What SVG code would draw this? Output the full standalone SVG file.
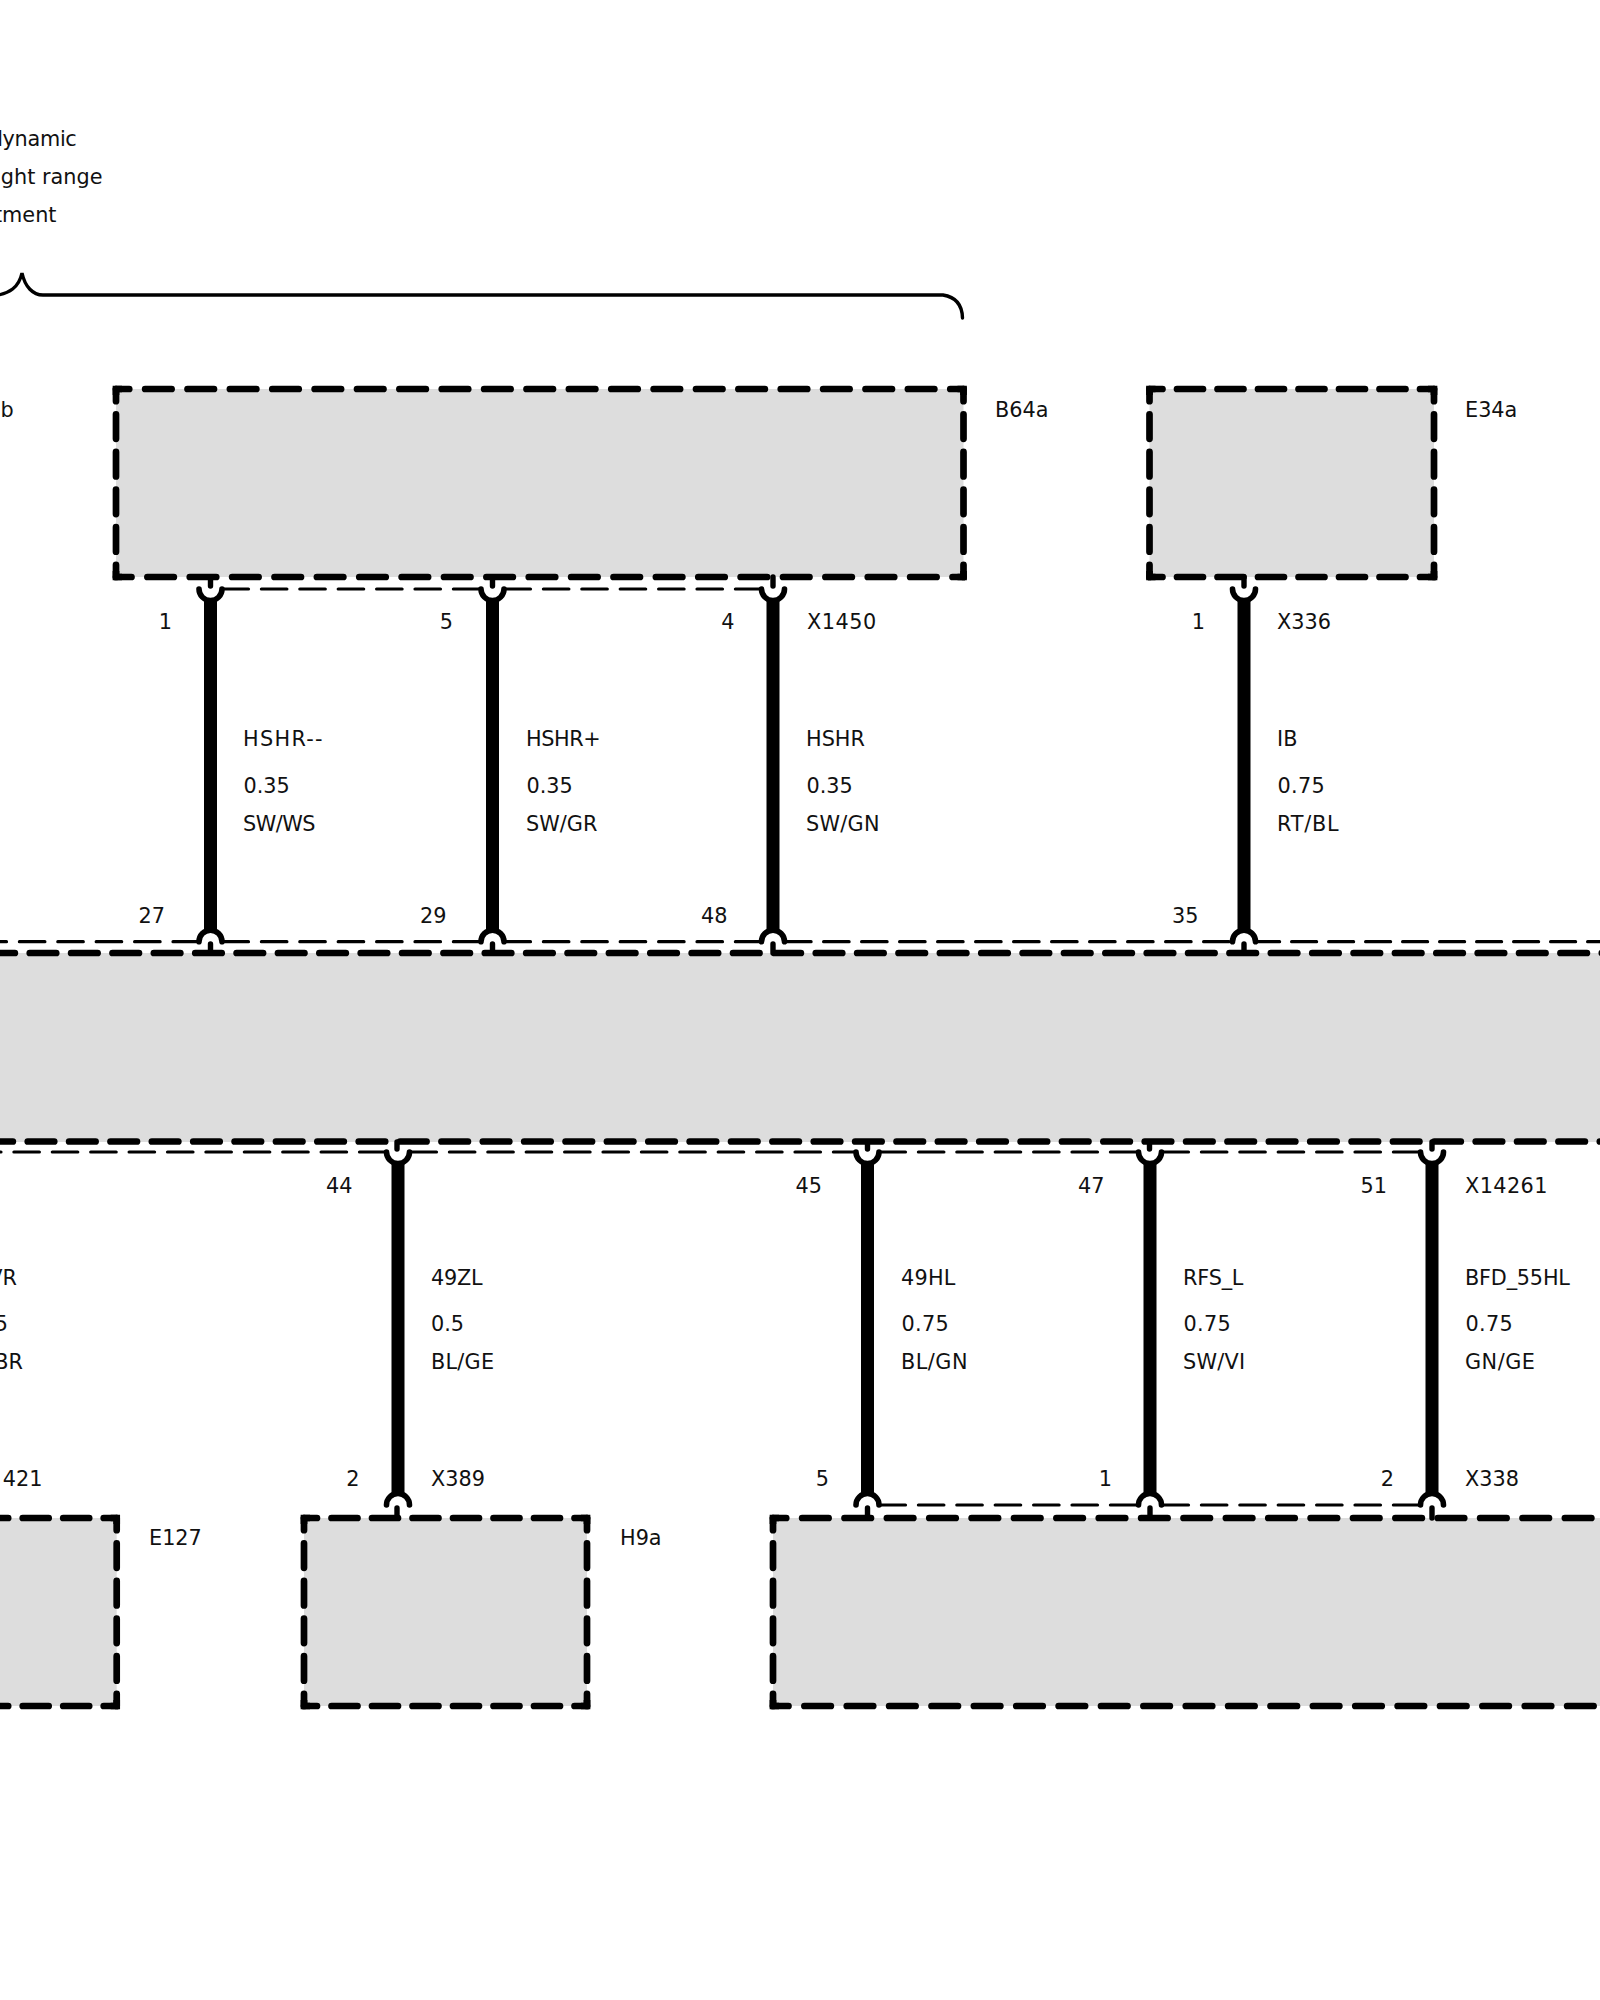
<svg xmlns="http://www.w3.org/2000/svg" width="1600" height="2000" viewBox="0 0 1600 2000">
<style>
text{font-family:"DejaVu Sans","Liberation Sans",sans-serif;font-size:20.8px;fill:#111}
.e{text-anchor:end}
.fill{fill:#dddddd;stroke:none}
.d{fill:none;stroke:#000;stroke-width:6.7;stroke-linecap:round}
.v{stroke-dasharray:24.5 13.1;stroke-dashoffset:12.25}
.h20{stroke-dasharray:26.5 15.875;stroke-dashoffset:13.25}
.h20b{stroke-dasharray:26.5 15.875;stroke-dashoffset:11}
.h7{stroke-dasharray:26 14.5;stroke-dashoffset:13}
.hm{stroke-dasharray:26.5 14.87}
.c{fill:none;stroke:#000;stroke-width:6.7;stroke-linejoin:miter}
.thin{fill:none;stroke:#000;stroke-width:3.2;stroke-linecap:round;stroke-dasharray:25.5 12.9}
.thin2{stroke-dasharray:25.5 12.5}
.thin3{stroke-dasharray:25 12}
.wire{fill:none;stroke:#000;stroke-width:13}
.fork{fill:#fff;stroke:#000;stroke-width:5.6;stroke-linecap:round}
.stub{fill:none;stroke:#000;stroke-width:5.4;stroke-linecap:round}
.brace{fill:none;stroke:#000;stroke-width:3.4;stroke-linecap:round}
</style>

<g id="brace"><path class="brace" d="M962.5 318Q962 298 943 295H43C33 295 25 287 22 273C19 287 10 294 -8 296"/>
<text class="e" x="76.5" y="145.5" letter-spacing="-0.3">dynamic</text>
<text class="e" x="102.5" y="183.5">light range</text>
<text class="e" x="56.5" y="221.5">adjustment</text>
<text x="0.5" y="417">b</text></g>

<g id="B64a">
<rect class="fill" x="116" y="389" width="847.5" height="188"/>
<path class="d h20" d="M116 389H963.5"/><path class="d h20b" d="M116 577H963.5"/>
<path class="d v" d="M116 389V577"/><path class="d v" d="M963.5 389V577"/>
<path class="c" d="M122 389H116V395M957.5 389H963.5V395M122 577H116V571M957.5 577H963.5V571"/>
<text x="995" y="417">B64a</text></g>

<g id="E34a">
<rect class="fill" x="1149.5" y="389" width="284.5" height="188"/>
<path class="d h7" d="M1149.5 389H1434"/><path class="d h7" d="M1149.5 577H1434"/>
<path class="d v" d="M1149.5 389V577"/><path class="d v" d="M1434 389V577"/>
<path class="c" d="M1155.5 389H1149.5V395M1428 389H1434V395M1155.5 577H1149.5V571M1428 577H1434V571"/>
<text x="1465" y="417">E34a</text></g>

<g id="main">
<rect class="fill" x="-10" y="953" width="1620" height="189"/>
<path class="d hm" d="M-53 953H1620"/><path class="d hm" d="M-55 1141.5H1620"/></g>

<g id="E127">
<rect class="fill" x="-10" y="1518" width="126.7" height="188"/>
<path class="d h7" d="M116.7 1518H-10"/><path class="d h7" d="M116.7 1706H-10"/>
<path class="d v" d="M116.7 1518V1706"/>
<path class="c" d="M110.7 1518H116.7V1524M110.7 1706H116.7V1700"/>
<text x="149" y="1544.5">E127</text>
<text class="e" x="42.5" y="1486">421</text></g>

<g id="H9a">
<rect class="fill" x="304" y="1518" width="283" height="188"/>
<path class="d h7" d="M304 1518H587"/><path class="d h7" d="M304 1706H587"/>
<path class="d v" d="M304 1518V1706"/><path class="d v" d="M587 1518V1706"/>
<path class="c" d="M310 1518H304V1524M581 1518H587V1524M310 1706H304V1700M581 1706H587V1700"/>
<text x="620" y="1544.5">H9a</text></g>

<g id="load">
<rect class="fill" x="773" y="1518" width="840" height="188"/>
<path class="d h20" d="M773 1518H1620"/><path class="d h20b" d="M773 1706H1620"/>
<path class="d v" d="M773 1518V1706"/>
<path class="c" d="M779 1518H773V1524M779 1706H773V1700"/></g>

<g id="connectors">
<path class="thin" d="M223 589H480M505 589H761"/>
<path class="thin" d="M198.5 941.7H-10M223 941.7H480M505 941.7H761"/>
<path class="thin thin2" d="M785.6 941.7H1231.5"/>
<path class="thin thin3" d="M1254.6 941.7H1620"/>
<path class="thin" d="M385 1152H-10M411 1152H855M880 1152H1137.5"/>
<path class="thin" d="M1163 1152H1419.5"/>
<path class="thin" d="M880 1505H1137.5M1163 1505H1419.5"/>

<path class="wire" d="M210.5 597V932M492.5 597V932M773 597V932M1244 597V932"/>
<path class="wire" d="M398 1162V1494M867.5 1162V1494M1150 1162V1494M1432 1162V1494"/>

<g id="p-top">
<path class="fork" d="M199 589A11.5 11.5 0 0 0 222 589M481 589A11.5 11.5 0 0 0 504 589M761.5 589A11.5 11.5 0 0 0 784.5 589M1232.5 589A11.5 11.5 0 0 0 1255.5 589"/>
<path class="stub" d="M210.5 577V586M492.5 577V586M773 577V586M1244 577V586"/>
</g>
<g id="p-main-top">
<path class="fork" d="M199 941.7A11.5 11.5 0 0 1 222 941.7M481 941.7A11.5 11.5 0 0 1 504 941.7M761.5 941.7A11.5 11.5 0 0 1 784.5 941.7M1232.5 941.7A11.5 11.5 0 0 1 1255.5 941.7"/>
<path class="stub" d="M210.5 953V944M492.5 953V944M773 953V944M1244 953V944"/>
</g>
<g id="p-main-bottom">
<path class="fork" d="M386.5 1152A11.5 11.5 0 0 0 409.5 1152M856 1152A11.5 11.5 0 0 0 879 1152M1138.5 1152A11.5 11.5 0 0 0 1161.5 1152M1420.5 1152A11.5 11.5 0 0 0 1443.5 1152"/>
<path class="stub" d="M397 1142V1149M867.5 1142V1149M1149.5 1142V1149M1432 1142V1149"/>
</g>
<g id="p-lower">
<path class="fork" d="M386.5 1505A11.5 11.5 0 0 1 409.5 1505M856 1505A11.5 11.5 0 0 1 879 1505M1138.5 1505A11.5 11.5 0 0 1 1161.5 1505M1420.5 1505A11.5 11.5 0 0 1 1443.5 1505"/>
<path class="stub" d="M397 1518V1508M867.5 1518V1508M1150 1518V1508M1432 1518V1508"/>
</g>
</g>

<g id="labels">
<text class="e" x="172" y="629">1</text>
<text class="e" x="453" y="629">5</text>
<text class="e" x="734.5" y="629">4</text>
<text x="807" y="629" letter-spacing="0.5">X1450</text>
<text class="e" x="1205" y="629">1</text>
<text x="1277" y="629">X336</text>

<text x="243" y="745.5" letter-spacing="1.3">HSHR--</text><text x="243.5" y="792.5">0.35</text><text x="243" y="830.5" letter-spacing="-0.5">SW/WS</text>
<text x="526" y="745.5" letter-spacing="-0.4">HSHR+</text><text x="526.5" y="792.5">0.35</text><text x="526" y="830.5">SW/GR</text>
<text x="806" y="745.5">HSHR</text><text x="806.5" y="792.5">0.35</text><text x="806" y="830.5" letter-spacing="0.25">SW/GN</text>
<text x="1277" y="745.5">IB</text><text x="1277.5" y="792.5" letter-spacing="0.3">0.75</text><text x="1277" y="830.5" letter-spacing="0.75">RT/BL</text>

<text class="e" x="165" y="923">27</text>
<text class="e" x="446.5" y="923">29</text>
<text class="e" x="727.5" y="923">48</text>
<text class="e" x="1198.5" y="923">35</text>

<text class="e" x="352.5" y="1192.5">44</text>
<text class="e" x="822" y="1192.5">45</text>
<text class="e" x="1104.5" y="1192.5">47</text>
<text class="e" x="1387" y="1192.5">51</text>
<text x="1465" y="1192.5" letter-spacing="0.4">X14261</text>

<text class="e" x="17" y="1285">VR</text><text x="-25" y="1331">0.5</text><text class="e" x="23" y="1369">BR</text>
<text x="431" y="1285" letter-spacing="-0.2">49ZL</text><text x="431" y="1331">0.5</text><text x="431" y="1369" letter-spacing="0.25">BL/GE</text>
<text x="901" y="1285" letter-spacing="0.25">49HL</text><text x="901.5" y="1331" letter-spacing="0.3">0.75</text><text x="901" y="1369" letter-spacing="0.5">BL/GN</text>
<text x="1183" y="1285" letter-spacing="-0.2">RFS_L</text><text x="1183.5" y="1331" letter-spacing="0.3">0.75</text><text x="1183" y="1369" letter-spacing="0.25">SW/VI</text>
<text x="1465" y="1285" letter-spacing="-0.2">BFD_55HL</text><text x="1465.5" y="1331" letter-spacing="0.3">0.75</text><text x="1465" y="1369" letter-spacing="0.5">GN/GE</text>

<text class="e" x="359.5" y="1486">2</text>
<text x="431" y="1486">X389</text>
<text class="e" x="829" y="1486">5</text>
<text class="e" x="1112" y="1486">1</text>
<text class="e" x="1394" y="1486">2</text>
<text x="1465" y="1486">X338</text>
</g>
</svg>
